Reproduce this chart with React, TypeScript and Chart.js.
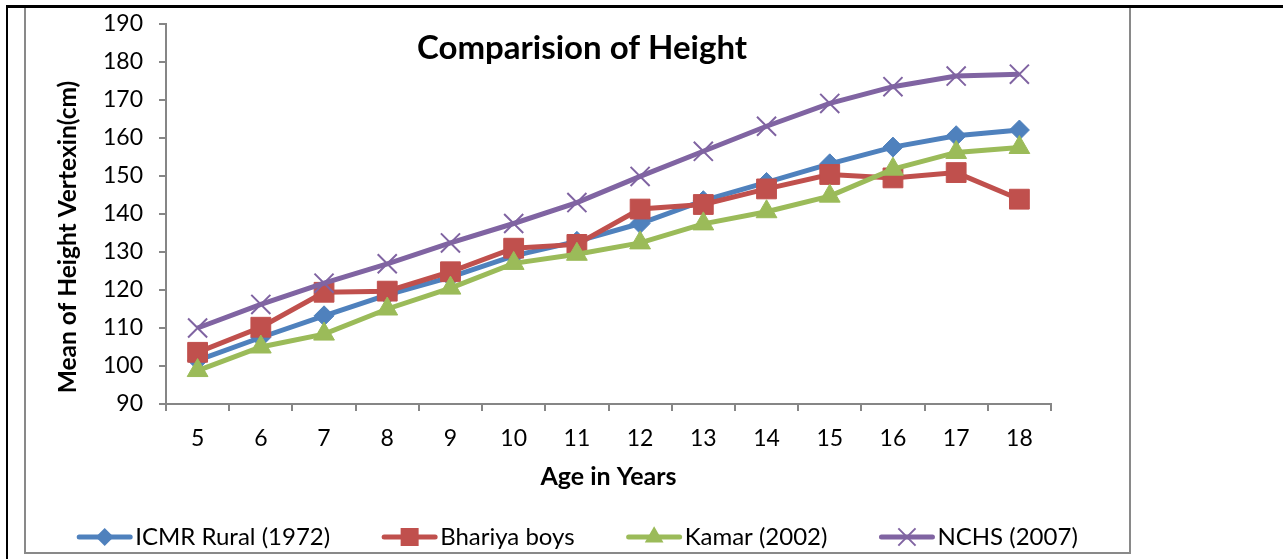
import React, { useEffect, useRef } from 'react';
import { Chart, registerables } from 'chart.js';

Chart.register(...registerables);

const FONT = 'Lato, "Open Sans", "Noto Sans", sans-serif';

// ---- data ----
const ageLabels = ['5', '6', '7', '8', '9', '10', '11', '12', '13', '14', '15', '16', '17', '18'];
const icmrRural = [101.5, 107.5, 113.2, 118.7, 123.4, 129, 132.8, 137.5, 143.5, 148.3, 153.2, 157.6, 160.6, 162.1];
const bhariyaBoys = [103.6, 110.2, 119.4, 119.7, 124.8, 131, 132, 141.3, 142.5, 146.6, 150.4, 149.5, 150.9, 143.9];
const kamar = [98.8, 105, 108.4, 115, 120.5, 127, 129.4, 132.4, 137.4, 140.6, 144.7, 151.8, 156.2, 157.5];
const nchs = [110, 116.2, 121.8, 126.9, 132.4, 137.5, 143, 149.9, 156.5, 163.1, 169.1, 173.5, 176.3, 176.8];

const seriesNames = ['ICMR Rural (1972)', 'Bhariya boys', 'Kamar (2002)', 'NCHS (2007)'];
const seriesColors = ['#4F81BD', '#C0504D', '#9BBB59', '#8064A2'];
const seriesMarkers = ['rectRot', 'rect', 'triangle', 'crossRot'];
const seriesMarkerRadius = [10, 14, 12, 13.5];

const chartTitle = 'Comparision of Height';
const xAxisTitle = 'Age in Years';
const yAxisTitle = 'Mean of Height Vertexin(cm)';
const yMin = 90;
const yMax = 190;
const yStep = 10;

const AXIS_GRAY = '#868686';

function drawMarker(ctx: CanvasRenderingContext2D, style: string, x: number, y: number, color: string, k: number) {
  ctx.save();
  ctx.fillStyle = color;
  ctx.strokeStyle = color;
  ctx.beginPath();
  if (style === 'rectRot') {
    const r = 10 * k;
    ctx.moveTo(x - r, y);
    ctx.lineTo(x, y - r);
    ctx.lineTo(x + r, y);
    ctx.lineTo(x, y + r);
    ctx.closePath();
    ctx.fill();
  } else if (style === 'rect') {
    const s = 10 * k;
    ctx.rect(x - s, y - s, 2 * s, 2 * s);
    ctx.fill();
  } else if (style === 'triangle') {
    const r = 12 * k;
    ctx.moveTo(x, y - r);
    ctx.lineTo(x + 0.866 * r, y + 0.5 * r);
    ctx.lineTo(x - 0.866 * r, y + 0.5 * r);
    ctx.closePath();
    ctx.fill();
  } else {
    const d = 0.707 * 13.5 * k;
    ctx.lineWidth = 2;
    ctx.moveTo(x - d, y - d);
    ctx.lineTo(x + d, y + d);
    ctx.moveTo(x - d, y + d);
    ctx.lineTo(x + d, y - d);
    ctx.stroke();
  }
  ctx.restore();
}

const annotationsPlugin = {
  id: 'annotations',
  afterDraw(chart: any) {
    const ctx: CanvasRenderingContext2D = chart.ctx;
    const W = chart.width;
    ctx.save();
    // main title
    ctx.fillStyle = '#000';
    ctx.font = `bold 33px ${FONT}`;
    ctx.textAlign = 'center';
    ctx.textBaseline = 'middle';
    ctx.fillText(chartTitle, 557, 42);

    // y axis title
    ctx.save();
    ctx.translate(43, 231);
    ctx.rotate(-Math.PI / 2);
    ctx.font = `bold 24.5px ${FONT}`;
    ctx.textAlign = 'center';
    ctx.textBaseline = 'middle';
    ctx.fillText(yAxisTitle, 0, 0);
    ctx.restore();

    // legend
    ctx.font = `24px ${FONT}`;
    const lineLen = 55;
    const gapText = 3;
    const gapItems = 52;
    const widths = seriesNames.map((n) => ctx.measureText(n).width);
    const total = widths.reduce((a, b) => a + b, 0) + seriesNames.length * (lineLen + gapText) + (seriesNames.length - 1) * gapItems;
    let x = W / 2 - total / 2;
    const y = 531;
    seriesNames.forEach((name, i) => {
      ctx.save();
      ctx.strokeStyle = seriesColors[i];
      ctx.lineWidth = 5;
      ctx.lineCap = 'round';
      ctx.beginPath();
      ctx.moveTo(x + 2, y);
      ctx.lineTo(x + lineLen - 2, y);
      ctx.stroke();
      ctx.restore();
      drawMarker(ctx, seriesMarkers[i], x + lineLen / 2, y, seriesColors[i], 0.9);
      ctx.fillStyle = '#000';
      ctx.textAlign = 'left';
      ctx.textBaseline = 'middle';
      ctx.fillText(name, x + lineLen + gapText, y);
      x += lineLen + gapText + widths[i] + gapItems;
    });
    ctx.restore();
  },
};

export default function App() {
  const canvasRef = useRef<HTMLCanvasElement | null>(null);

  useEffect(() => {
    if (!canvasRef.current) return;
    const seriesData = [icmrRural, bhariyaBoys, kamar, nchs];
    const chart = new Chart(canvasRef.current, {
      type: 'line',
      data: {
        labels: ageLabels,
        datasets: seriesNames.map((name, i) => ({
          label: name,
          data: seriesData[i],
          borderColor: seriesColors[i],
          backgroundColor: seriesColors[i],
          borderWidth: 5,
          tension: 0,
          pointStyle: seriesMarkers[i] as any,
          pointRadius: seriesMarkerRadius[i],
          pointHoverRadius: seriesMarkerRadius[i],
          pointBackgroundColor: seriesColors[i],
          pointBorderColor: seriesColors[i],
          pointBorderWidth: i === 3 ? 2 : 1,
          order: 3 - i,
        })),
      },
      options: {
        responsive: false,
        maintainAspectRatio: false,
        animation: false,
        devicePixelRatio: 1,
        layout: { padding: { top: 18, right: 79, left: 0, bottom: 0 } },
        plugins: {
          legend: { display: false },
          title: { display: false },
          tooltip: { enabled: false },
        },
        scales: {
          x: {
            type: 'category',
            offset: true,
            grid: {
              display: true,
              offset: true,
              drawOnChartArea: false,
              drawTicks: true,
              tickLength: 7,
              color: AXIS_GRAY,
              lineWidth: 2,
            },
            border: { display: true, color: AXIS_GRAY, width: 2 },
            ticks: {
              color: '#000',
              font: { family: FONT, size: 23 },
              padding: 14,
              maxRotation: 0,
              autoSkip: false,
            },
            title: {
              display: true,
              text: xAxisTitle,
              color: '#000',
              font: { family: FONT, size: 25, weight: 'bold' },
              padding: { top: 0, bottom: 61 },
            },
            afterFit: (scale: any) => {
              scale.height = 149;
              scale.paddingLeft = 0;
              scale.paddingRight = 0;
            },
          },
          y: {
            min: yMin,
            max: yMax,
            grid: {
              display: true,
              drawOnChartArea: false,
              drawTicks: true,
              tickLength: 7,
              color: AXIS_GRAY,
              lineWidth: 2,
            },
            border: { display: true, color: AXIS_GRAY, width: 2 },
            ticks: {
              stepSize: yStep,
              color: '#000',
              font: { family: FONT, size: 23 },
              padding: 16,
            },
            afterFit: (scale: any) => {
              scale.width = 141;
              scale.paddingTop = 0;
              scale.paddingBottom = 0;
            },
          },
        },
      },
      plugins: [annotationsPlugin],
    });
    return () => chart.destroy();
  }, []);

  return (
    <div style={{ position: 'absolute', left: 0, top: 0, width: 1283, height: 559, background: '#fff', overflow: 'hidden' }}>
      <div
        style={{
          position: 'absolute',
          left: 24,
          top: 5,
          width: 1107,
          height: 549,
          border: '2px solid #898989',
          boxSizing: 'border-box',
        }}
      />
      <canvas ref={canvasRef} width={1105} height={547} style={{ position: 'absolute', left: 25, top: 6 }} />
      <div style={{ position: 'absolute', left: 6, top: 5, width: 1277, height: 3, background: '#000' }} />
      <div style={{ position: 'absolute', left: 6, top: 5, width: 2, height: 554, background: '#000' }} />
    </div>
  );
}
